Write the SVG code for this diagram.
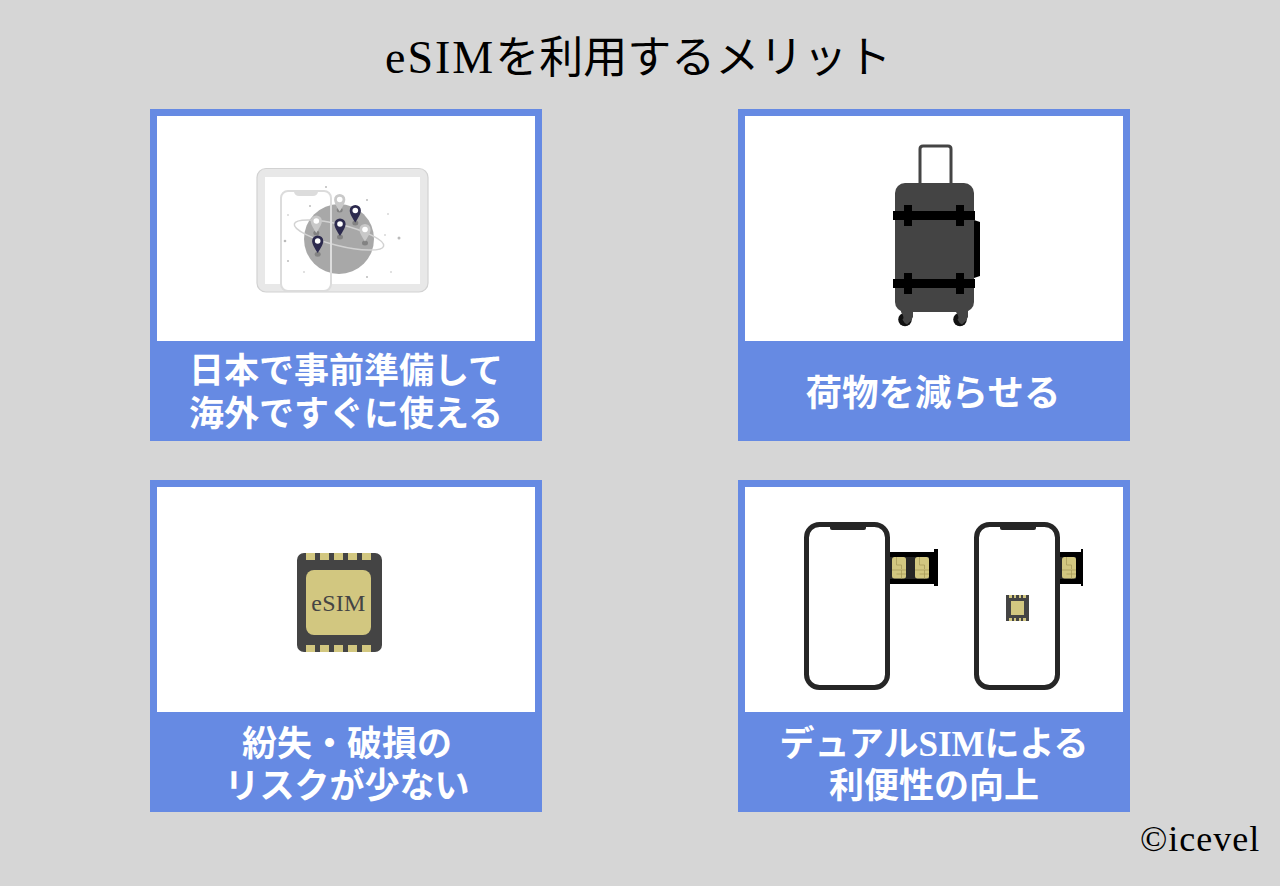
<svg xmlns="http://www.w3.org/2000/svg" width="1280" height="886" viewBox="0 0 1280 886">
<style>
.f{font-family:"Liberation Serif","Noto Sans CJK JP",serif}
.t{font-size:35px;font-weight:700;fill:#fff;text-anchor:middle}
.bl{fill:#668ae3}.w{fill:#fff}
.dk{fill:#444}.g{fill:#d2c780}.k{fill:#000}.ph{fill:#fff;stroke:#262626;stroke-width:5}.n{fill:#262626}
.tg{fill:#e8e8e8}.tl{fill:none;stroke:#d2d2d2;stroke-width:1.5}
.pin-n{fill:#2c2a4e}.pin-l{fill:#c9c9c9}
.dot{fill:#bbb}
</style>
<defs>
<g id="pin"><path d="M0 12C-2.500 8-5.600 3.500-5.600 0A5.600 5.600 0 0 1 5.600 0C5.600 3.500 2.500 8 0 12Z"/><circle r="2.800" fill="#fff"/></g>
<g id="sim"><rect width="14" height="21.500" rx="2.500" class="g"/><path d="M4.500 0V8H9.500V12M0 13H14M9.500 13V21.500M4.500 17H14" fill="none" stroke="#a89c5c" stroke-width=".8"/></g>
</defs>
<rect width="1280" height="886" fill="#d6d6d6"/>
<text class="f" x="385" y="73" font-size="44" fill="#000"><tspan font-size="46" letter-spacing="2">eSIM</tspan>を利用するメリット</text>
<g id="card-1">
<rect class="bl" x="150" y="109" width="392" height="332"/><rect class="w" x="157" y="116" width="378" height="225"/>
<rect x="257" y="168.500" width="171" height="123.500" rx="9" class="tg" stroke="#d2d2d2" stroke-width="1.200"/>
<rect x="265" y="177" width="155" height="107" class="w"/>
<rect x="272" y="168" width="6" height="1" fill="#d2d2d2"/><rect x="281" y="168" width="6" height="1" fill="#d2d2d2"/>
<rect x="281" y="191" width="50" height="100" rx="7" fill="#fff"/>
<circle cx="339" cy="239" r="35" fill="#a8a8a8"/>
<ellipse cx="339" cy="235" rx="46" ry="10.500" transform="rotate(14 339 235)" class="tl"/>
<rect x="281" y="191" width="50" height="100" rx="7" fill="none" stroke="#dcdcdc" stroke-width="2"/>
<path d="M294 192H318Q317 196 313 196H299Q295 196 294 192Z" fill="#dcdcdc"/>
<g class="dot"><circle cx="326" cy="187" r="1"/><circle cx="310" cy="206" r="1"/><circle cx="367" cy="200" r="1"/><circle cx="288" cy="215" r=".8"/><circle cx="388" cy="214" r=".8"/><circle cx="285" cy="241" r="1.300"/><circle cx="399" cy="238" r="1.500"/><circle cx="385" cy="235" r=".8"/><circle cx="288" cy="261" r="1"/><circle cx="304" cy="272" r=".8"/><circle cx="367" cy="277" r="1"/><circle cx="391" cy="272" r=".8"/></g>
<g opacity=".22"><ellipse cx="339.700" cy="210" rx="3" ry="2.500"/><ellipse cx="355.300" cy="223" rx="3" ry="2.500"/><ellipse cx="340" cy="237" rx="3" ry="2.500"/><ellipse cx="365" cy="243" rx="3" ry="2.500"/><ellipse cx="317.700" cy="254.300" rx="3" ry="2.500"/><ellipse cx="316.300" cy="233" rx="3" ry="2.500"/></g>
<use href="#pin" x="339.700" y="199.500" class="pin-l"/><use href="#pin" x="355.300" y="210.500" class="pin-n"/><use href="#pin" x="340" y="224" class="pin-n"/><use href="#pin" x="365" y="229.500" class="pin-l"/><use href="#pin" x="316.300" y="221" class="pin-l"/><use href="#pin" x="317.700" y="241" class="pin-n"/>
<text class="f t" x="346" y="383">日本で事前準備して</text><text class="f t" x="346" y="425.500">海外ですぐに使える</text>
</g>
<g id="card-2">
<rect class="bl" x="738" y="109" width="392" height="332"/><rect class="w" x="745" y="116" width="378" height="225"/>
<path d="M920 184V149Q920 146 923 146H948Q951 146 951 149V184" fill="none" stroke="#444" stroke-width="3"/>
<path d="M974 220L980 222V276L974 278Z" class="k"/>
<circle cx="905" cy="319.500" r="6.800" fill="#111"/><circle cx="960" cy="319.500" r="6.800" fill="#111"/>
<path d="M901 310H913V317Q911 322 907 324.500 904 323 902.500 319.500 905 318 901 312ZM956 310H968V317Q966 322 962 324.500 959 323 957.500 319.500 960 318 956 312Z" class="dk"/>
<rect x="895" y="183" width="79" height="129" rx="10" class="dk"/>
<g class="k"><rect x="893" y="211" width="82" height="9"/><rect x="893" y="279" width="82" height="9"/><rect x="904" y="205" width="8" height="21"/><rect x="956" y="205" width="8" height="21"/><rect x="904" y="273" width="8" height="21"/><rect x="956" y="273" width="8" height="21"/></g>
<text class="f t" x="933" y="405.500" style="font-size:36.500px">荷物を減らせる</text>
</g>
<g id="card-3">
<rect class="bl" x="150" y="480" width="392" height="332"/><rect class="w" x="157" y="487" width="378" height="225"/>
<rect x="297" y="553" width="85" height="99" rx="7" class="dk"/>
<g class="g"><rect x="306" y="553" width="9" height="7"/><rect x="320" y="553" width="9" height="7"/><rect x="334" y="553" width="9" height="7"/><rect x="348" y="553" width="9" height="7"/><rect x="362" y="553" width="9" height="7"/><rect x="306" y="645" width="9" height="7"/><rect x="320" y="645" width="9" height="7"/><rect x="334" y="645" width="9" height="7"/><rect x="348" y="645" width="9" height="7"/><rect x="362" y="645" width="9" height="7"/><rect x="306" y="570" width="65" height="65" rx="8"/></g>
<text class="f" x="338.500" y="610.500" font-size="24" letter-spacing=".3" text-anchor="middle" fill="#444">eSIM</text>
<text class="f t" x="347" y="756">紛失・破損の</text><text class="f t" x="347" y="798">リスクが少ない</text>
</g>
<g id="card-4">
<rect class="bl" x="738" y="480" width="392" height="332"/><rect class="w" x="745" y="487" width="378" height="225"/>
<rect class="ph" x="806.500" y="524.500" width="81" height="163" rx="13"/><path class="n" d="M830 526H866V528Q866 530 864 530H832Q830 530 830 528Z"/>
<rect class="k" x="890" y="552" width="44" height="32"/><rect class="k" x="934" y="549" width="4" height="37"/><rect class="n" x="890" y="557" width="39" height="22"/>
<use href="#sim" x="892" y="557"/><use href="#sim" x="915" y="557"/>
<rect class="ph" x="976.500" y="524.500" width="81" height="163" rx="13"/><path class="n" d="M1000 526H1036V528Q1036 530 1034 530H1002Q1000 530 1000 528Z"/>
<rect class="k" x="1060" y="552" width="21" height="32"/><rect class="k" x="1081" y="549" width="2" height="37"/><rect class="n" x="1060" y="557" width="16" height="22"/>
<use href="#sim" x="1062" y="557"/>
<rect class="dk" x="1006" y="595" width="23" height="26"/>
<g class="g"><rect x="1011" y="601" width="13" height="14"/><rect x="1009" y="595" width="3" height="3"/><rect x="1014" y="595" width="2" height="3"/><rect x="1019" y="595" width="2" height="3"/><rect x="1023" y="595" width="3" height="3"/><rect x="1009" y="618" width="3" height="3"/><rect x="1014" y="618" width="2" height="3"/><rect x="1019" y="618" width="2" height="3"/><rect x="1023" y="618" width="3" height="3"/></g>
<text class="f t" x="934" y="756">デュアルSIMによる</text><text class="f t" x="934" y="798">利便性の向上</text>
</g>
<text class="f" x="1140" y="851" font-size="36" letter-spacing="1" fill="#000">©icevel</text>
</svg>
